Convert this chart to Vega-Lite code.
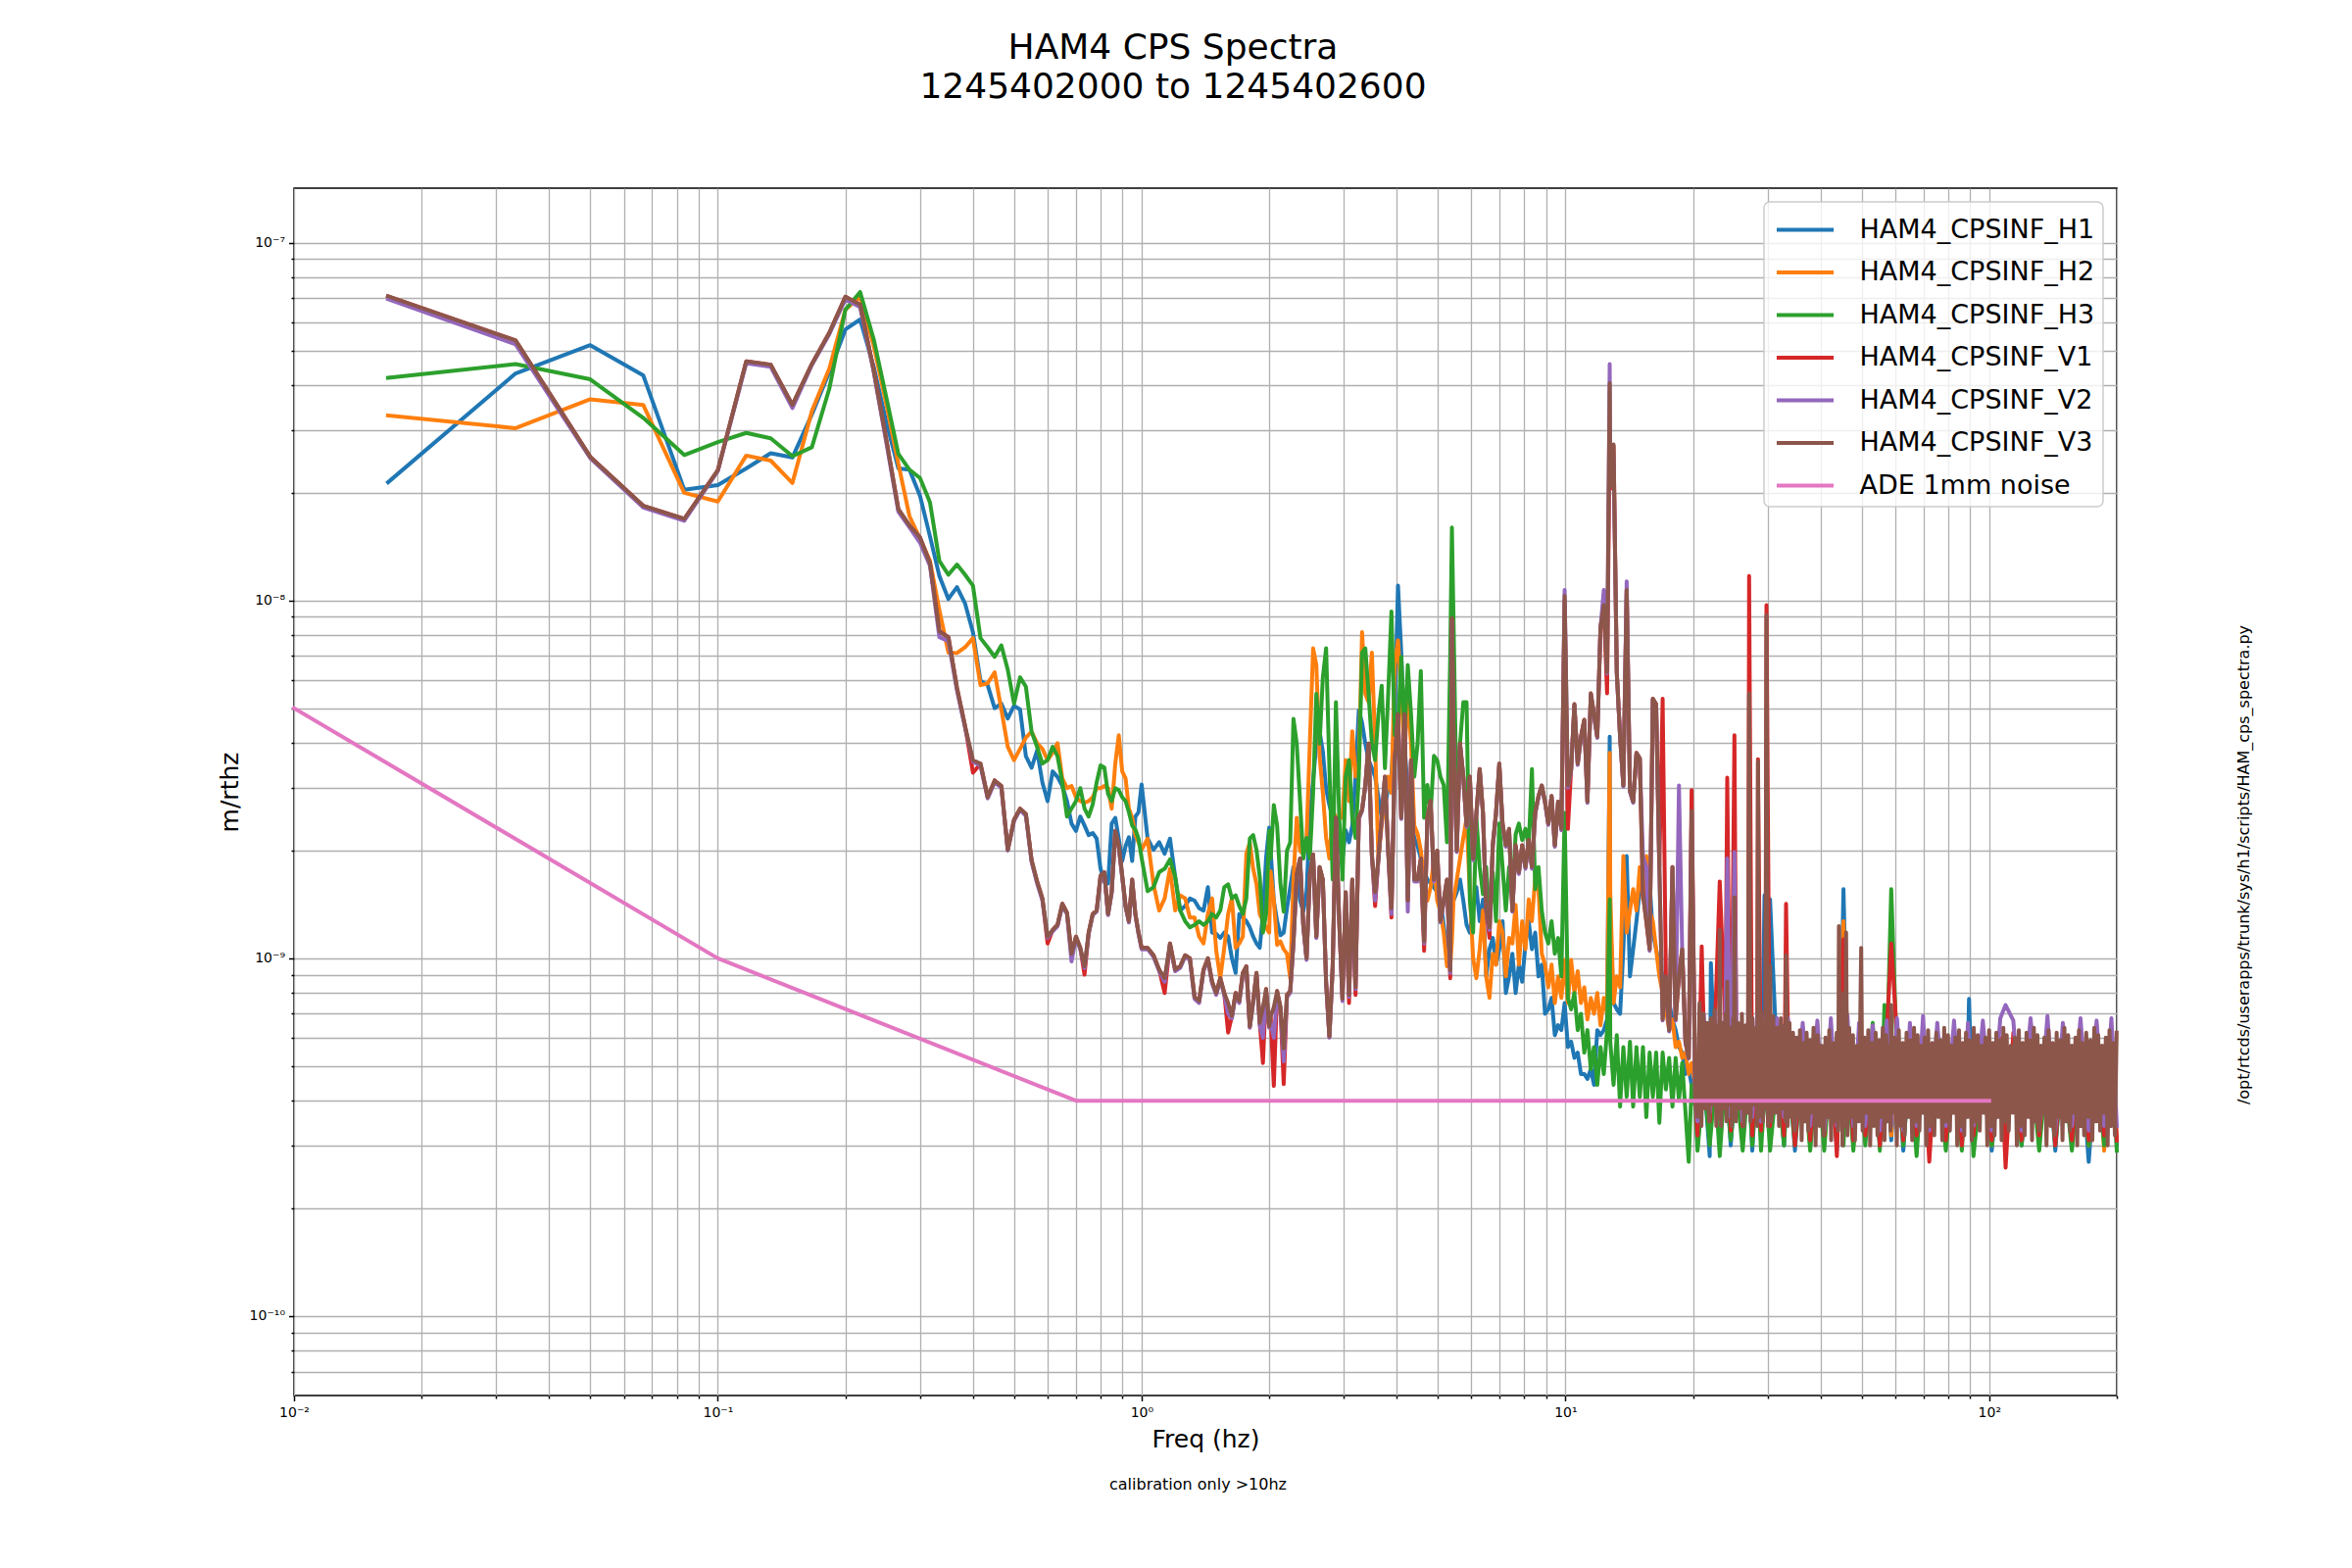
{
"$schema": "https://vega.github.io/schema/vega-lite/v6.json",
"width": 1860,
"height": 1232,
"autosize": {"type": "none"},
"padding": {"left": 300, "top": 192, "right": 240, "bottom": 176},
"background": "white",
"title": {"text": ["HAM4 CPS Spectra", "1245402000 to 1245402600"], "font": "DejaVu Sans", "fontSize": 36, "fontWeight": "normal", "color": "black", "anchor": "middle", "frame": "group", "dx": -33, "offset": 48, "baseline": "bottom", "lineHeight": 40},
"config": {
  "font": "DejaVu Sans",
  "view": {"stroke": "black", "strokeWidth": 1.5},
  "axis": {"labelFont": "DejaVu Sans", "titleFont": "DejaVu Sans", "titleFontWeight": "normal", "labelColor": "black", "titleColor": "black", "tickColor": "black", "tickWidth": 1.5, "domain": false, "gridColor": "#b0b0b0", "gridWidth": 1.3, "gridOpacity": 1},
  "legend": {"orient": "top-right", "offset": 14, "labelFont": "DejaVu Sans", "labelFontSize": 27, "labelColor": "black", "labelLimit": 0, "symbolType": "M-1.57,0H1.57", "symbolSize": 1369, "symbolStrokeWidth": 4, "symbolOffset": 13.5, "labelOffset": 35, "rowPadding": 9.5, "padding": 8, "fillColor": "rgba(255,255,255,0.8)", "strokeColor": "#cccccc", "strokeWidth": 1.5, "cornerRadius": 6},
  "line": {"strokeWidth": 4, "strokeJoin": "round", "strokeCap": "square"}
},
"datasets": {
"cps": [
{"f":0.01667,"H1":2.14e-8,"H2":3.29e-8,"H3":4.19e-8,"V1":7.08e-8,"V2":6.95e-8,"V3":7.08e-8},
{"f":0.03333,"H1":4.31e-8,"H2":3.03e-8,"H3":4.58e-8,"V1":5.33e-8,"V2":5.2e-8,"V3":5.33e-8},
{"f":0.05,"H1":5.17e-8,"H2":3.65e-8,"H3":4.15e-8,"V1":2.52e-8,"V2":2.5e-8,"V3":2.52e-8},
{"f":0.06667,"H1":4.26e-8,"H2":3.52e-8,"H3":3.24e-8,"V1":1.84e-8,"V2":1.82e-8,"V3":1.84e-8},
{"f":0.08333,"H1":2.04e-8,"H2":2.0e-8,"H3":2.55e-8,"V1":1.69e-8,"V2":1.67e-8,"V3":1.69e-8},
{"f":0.1,"H1":2.1e-8,"H2":1.89e-8,"H3":2.77e-8,"V1":2.31e-8,"V2":2.3e-8,"V3":2.31e-8},
{"f":0.1167,"H1":2.34e-8,"H2":2.54e-8,"H3":2.94e-8,"V1":4.66e-8,"V2":4.6e-8,"V3":4.66e-8},
{"f":0.1333,"H1":2.58e-8,"H2":2.46e-8,"H3":2.84e-8,"V1":4.56e-8,"V2":4.5e-8,"V3":4.56e-8},
{"f":0.15,"H1":2.51e-8,"H2":2.13e-8,"H3":2.53e-8,"V1":3.52e-8,"V2":3.45e-8,"V3":3.52e-8},
{"f":0.1667,"H1":3.31e-8,"H2":3.38e-8,"H3":2.68e-8,"V1":4.58e-8,"V2":4.55e-8,"V3":4.58e-8},
{"f":0.1833,"H1":4.35e-8,"H2":4.45e-8,"H3":3.91e-8,"V1":5.6e-8,"V2":5.55e-8,"V3":5.6e-8},
{"f":0.2,"H1":5.72e-8,"H2":6.5e-8,"H3":6.5e-8,"V1":7.06e-8,"V2":6.95e-8,"V3":7.06e-8},
{"f":0.2167,"H1":6.1e-8,"H2":7.06e-8,"H3":7.28e-8,"V1":6.7e-8,"V2":6.6e-8,"V3":6.7e-8},
{"f":0.2333,"H1":4.5e-8,"H2":5.15e-8,"H3":5.37e-8,"V1":4.4e-8,"V2":4.35e-8,"V3":4.4e-8},
{"f":0.25,"H1":3.14e-8,"H2":3.52e-8,"H3":3.68e-8,"V1":2.8e-8,"V2":2.75e-8,"V3":2.8e-8},
{"f":0.2667,"H1":2.34e-8,"H2":2.41e-8,"H3":2.57e-8,"V1":1.8e-8,"V2":1.77e-8,"V3":1.8e-8},
{"f":0.2833,"H1":2.32e-8,"H2":1.72e-8,"H3":2.32e-8,"V1":1.62e-8,"V2":1.6e-8,"V3":1.62e-8},
{"f":0.3,"H1":1.96e-8,"H2":1.49e-8,"H3":2.2e-8,"V1":1.5e-8,"V2":1.45e-8,"V3":1.5e-8},
{"f":0.3167,"H1":1.51e-8,"H2":1.29e-8,"H3":1.88e-8,"V1":1.27e-8,"V2":1.25e-8,"V3":1.27e-8},
{"f":0.3333,"H1":1.17e-8,"H2":9.4e-9,"H3":1.29e-8,"V1":8.2e-9,"V2":7.9e-9,"V3":8.2e-9},
{"f":0.35,"H1":1.01e-8,"H2":7.15e-9,"H3":1.18e-8,"V1":7.9e-9,"V2":7.7e-9,"V3":7.9e-9},
{"f":0.3667,"H1":1.09e-8,"H2":7.13e-9,"H3":1.26e-8,"V1":5.7e-9,"V2":5.6e-9,"V3":5.7e-9},
{"f":0.3833,"H1":9.8e-9,"H2":7.4e-9,"H3":1.18e-8,"V1":4.45e-9,"V2":4.4e-9,"V3":4.45e-9},
{"f":0.4,"H1":8.15e-9,"H2":7.85e-9,"H3":1.1e-8,"V1":3.3e-9,"V2":3.55e-9,"V3":3.58e-9},
{"f":0.4167,"H1":5.96e-9,"H2":5.8e-9,"H3":7.85e-9,"V1":3.5e-9,"V2":3.45e-9,"V3":3.5e-9},
{"f":0.4333,"H1":5.8e-9,"H2":5.87e-9,"H3":7.4e-9,"V1":2.82e-9,"V2":2.8e-9,"V3":2.82e-9},
{"f":0.45,"H1":5.0e-9,"H2":6.3e-9,"H3":6.96e-9,"V1":3.14e-9,"V2":3.1e-9,"V3":3.14e-9},
{"f":0.4667,"H1":5.15e-9,"H2":4.96e-9,"H3":7.49e-9,"V1":3.03e-9,"V2":3.0e-9,"V3":3.03e-9},
{"f":0.4833,"H1":4.68e-9,"H2":3.9e-9,"H3":6.4e-9,"V1":2.01e-9,"V2":2.0e-9,"V3":2.01e-9},
{"f":0.5,"H1":5.08e-9,"H2":3.58e-9,"H3":5.15e-9,"V1":2.44e-9,"V2":2.42e-9,"V3":2.44e-9},
{"f":0.5167,"H1":4.96e-9,"H2":3.85e-9,"H3":6.1e-9,"V1":2.62e-9,"V2":2.6e-9,"V3":2.62e-9},
{"f":0.5333,"H1":3.67e-9,"H2":4.14e-9,"H3":5.74e-9,"V1":2.53e-9,"V2":2.5e-9,"V3":2.53e-9},
{"f":0.55,"H1":3.41e-9,"H2":4.3e-9,"H3":4.3e-9,"V1":1.88e-9,"V2":1.86e-9,"V3":1.88e-9},
{"f":0.5667,"H1":3.81e-9,"H2":3.99e-9,"H3":3.9e-9,"V1":1.64e-9,"V2":1.62e-9,"V3":1.64e-9},
{"f":0.5833,"H1":3.1e-9,"H2":3.85e-9,"H3":3.5e-9,"V1":1.47e-9,"V2":1.45e-9,"V3":1.47e-9},
{"f":0.6,"H1":2.75e-9,"H2":3.58e-9,"H3":3.58e-9,"V1":1.1e-9,"V2":1.14e-9,"V3":1.15e-9},
{"f":0.6167,"H1":3.33e-9,"H2":3.76e-9,"H3":3.9e-9,"V1":1.2e-9,"V2":1.19e-9,"V3":1.2e-9},
{"f":0.6333,"H1":3.21e-9,"H2":3.99e-9,"H3":3.67e-9,"V1":1.24e-9,"V2":1.23e-9,"V3":1.24e-9},
{"f":0.65,"H1":3.03e-9,"H2":3.18e-9,"H3":3.1e-9,"V1":1.42e-9,"V2":1.4e-9,"V3":1.42e-9},
{"f":0.6667,"H1":2.75e-9,"H2":2.99e-9,"H3":2.49e-9,"V1":1.34e-9,"V2":1.33e-9,"V3":1.34e-9},
{"f":0.6833,"H1":2.38e-9,"H2":3.03e-9,"H3":2.62e-9,"V1":1.03e-9,"V2":9.8e-10,"V3":1.03e-9},
{"f":0.7,"H1":2.27e-9,"H2":2.82e-9,"H3":2.75e-9,"V1":1.15e-9,"V2":1.14e-9,"V3":1.15e-9},
{"f":0.7167,"H1":2.49e-9,"H2":2.75e-9,"H3":2.99e-9,"V1":1.07e-9,"V2":1.06e-9,"V3":1.07e-9},
{"f":0.7333,"H1":2.35e-9,"H2":2.72e-9,"H3":2.62e-9,"V1":9.0e-10,"V2":9.4e-10,"V3":9.5e-10},
{"f":0.75,"H1":2.21e-9,"H2":2.75e-9,"H3":2.49e-9,"V1":1.18e-9,"V2":1.17e-9,"V3":1.18e-9},
{"f":0.7667,"H1":2.24e-9,"H2":2.82e-9,"H3":2.69e-9,"V1":1.33e-9,"V2":1.32e-9,"V3":1.33e-9},
{"f":0.7833,"H1":2.16e-9,"H2":2.99e-9,"H3":3.1e-9,"V1":1.36e-9,"V2":1.35e-9,"V3":1.36e-9},
{"f":0.8,"H1":1.78e-9,"H2":2.99e-9,"H3":3.46e-9,"V1":1.7e-9,"V2":1.68e-9,"V3":1.7e-9},
{"f":0.8167,"H1":1.64e-9,"H2":3.03e-9,"H3":3.41e-9,"V1":1.74e-9,"V2":1.72e-9,"V3":1.74e-9},
{"f":0.8333,"H1":1.62e-9,"H2":2.99e-9,"H3":2.88e-9,"V1":1.33e-9,"V2":1.32e-9,"V3":1.33e-9},
{"f":0.85,"H1":2.38e-9,"H2":2.62e-9,"H3":2.75e-9,"V1":1.54e-9,"V2":1.52e-9,"V3":1.54e-9},
{"f":0.8667,"H1":2.47e-9,"H2":3.5e-9,"H3":2.99e-9,"V1":2.27e-9,"V2":2.25e-9,"V3":2.27e-9},
{"f":0.8833,"H1":2.16e-9,"H2":4.2e-9,"H3":2.95e-9,"V1":2.06e-9,"V2":2.04e-9,"V3":2.06e-9},
{"f":0.9,"H1":1.87e-9,"H2":3.33e-9,"H3":2.82e-9,"V1":1.7e-9,"V2":1.68e-9,"V3":1.7e-9},
{"f":0.9167,"H1":2.06e-9,"H2":3.18e-9,"H3":2.75e-9,"V1":1.4e-9,"V2":1.39e-9,"V3":1.4e-9},
{"f":0.9333,"H1":2.18e-9,"H2":2.62e-9,"H3":2.56e-9,"V1":1.27e-9,"V2":1.26e-9,"V3":1.27e-9},
{"f":0.95,"H1":1.87e-9,"H2":2.47e-9,"H3":2.35e-9,"V1":1.66e-9,"V2":1.64e-9,"V3":1.66e-9},
{"f":0.9667,"H1":2.49e-9,"H2":2.21e-9,"H3":2.29e-9,"V1":1.33e-9,"V2":1.32e-9,"V3":1.33e-9},
{"f":0.9833,"H1":2.56e-9,"H2":2.11e-9,"H3":2.16e-9,"V1":1.18e-9,"V2":1.17e-9,"V3":1.18e-9},
{"f":1.0,"H1":3.06e-9,"H2":2.01e-9,"H3":1.91e-9,"V1":1.07e-9,"V2":1.06e-9,"V3":1.07e-9},
{"f":1.0333,"H1":2.16e-9,"H2":2.16e-9,"H3":1.54e-9,"V1":1.07e-9,"V2":1.06e-9,"V3":1.07e-9},
{"f":1.0667,"H1":2.01e-9,"H2":1.61e-9,"H3":1.58e-9,"V1":1.02e-9,"V2":1.01e-9,"V3":1.02e-9},
{"f":1.1,"H1":2.11e-9,"H2":1.36e-9,"H3":1.74e-9,"V1":9.3e-10,"V2":9.2e-10,"V3":9.3e-10},
{"f":1.1333,"H1":1.96e-9,"H2":1.47e-9,"H3":1.78e-9,"V1":8.0e-10,"V2":8.6e-10,"V3":8.8e-10},
{"f":1.1667,"H1":2.16e-9,"H2":1.78e-9,"H3":1.89e-9,"V1":1.1e-9,"V2":1.09e-9,"V3":1.1e-9},
{"f":1.2,"H1":1.69e-9,"H2":1.36e-9,"H3":1.69e-9,"V1":9.3e-10,"V2":9.2e-10,"V3":9.3e-10},
{"f":1.2333,"H1":1.36e-9,"H2":1.5e-9,"H3":1.36e-9,"V1":9.5e-10,"V2":9.4e-10,"V3":9.5e-10},
{"f":1.2667,"H1":1.4e-9,"H2":1.47e-9,"H3":1.27e-9,"V1":1.02e-9,"V2":1.01e-9,"V3":1.02e-9},
{"f":1.3,"H1":1.47e-9,"H2":1.3e-9,"H3":1.22e-9,"V1":1.0e-9,"V2":9.9e-10,"V3":1.0e-9},
{"f":1.3333,"H1":1.45e-9,"H2":1.3e-9,"H3":1.24e-9,"V1":7.8e-10,"V2":7.7e-10,"V3":7.8e-10},
{"f":1.3667,"H1":1.38e-9,"H2":1.15e-9,"H3":1.27e-9,"V1":7.6e-10,"V2":7.5e-10,"V3":7.6e-10},
{"f":1.4,"H1":1.36e-9,"H2":1.1e-9,"H3":1.24e-9,"V1":9.3e-10,"V2":9.2e-10,"V3":9.3e-10},
{"f":1.4333,"H1":1.58e-9,"H2":1.33e-9,"H3":1.27e-9,"V1":1.0e-9,"V2":9.9e-10,"V3":1.0e-9},
{"f":1.4667,"H1":1.18e-9,"H2":1.47e-9,"H3":1.33e-9,"V1":8.6e-10,"V2":8.5e-10,"V3":8.6e-10},
{"f":1.5,"H1":1.17e-9,"H2":1.05e-9,"H3":1.3e-9,"V1":8.0e-10,"V2":7.9e-10,"V3":8.0e-10},
{"f":1.5333,"H1":1.14e-9,"H2":8.8e-10,"H3":1.36e-9,"V1":8.8e-10,"V2":8.7e-10,"V3":8.8e-10},
{"f":1.5667,"H1":1.18e-9,"H2":1.07e-9,"H3":1.58e-9,"V1":8.0e-10,"V2":7.9e-10,"V3":8.0e-10},
{"f":1.6,"H1":1.15e-9,"H2":1.33e-9,"H3":1.61e-9,"V1":6.2e-10,"V2":7.0e-10,"V3":7.5e-10},
{"f":1.6333,"H1":1.0e-9,"H2":1.47e-9,"H3":1.47e-9,"V1":6.9e-10,"V2":6.8e-10,"V3":6.9e-10},
{"f":1.6667,"H1":9.1e-10,"H2":1.07e-9,"H3":1.5e-9,"V1":8.0e-10,"V2":7.9e-10,"V3":8.0e-10},
{"f":1.7,"H1":1.33e-9,"H2":1.1e-9,"H3":1.4e-9,"V1":7.6e-10,"V2":7.5e-10,"V3":7.6e-10},
{"f":1.7333,"H1":1.3e-9,"H2":1.15e-9,"H3":1.33e-9,"V1":9.1e-10,"V2":9.0e-10,"V3":9.1e-10},
{"f":1.7667,"H1":1.27e-9,"H2":1.96e-9,"H3":1.47e-9,"V1":9.5e-10,"V2":9.4e-10,"V3":9.5e-10},
{"f":1.8,"H1":1.22e-9,"H2":2.11e-9,"H3":2.16e-9,"V1":6.45e-10,"V2":6.4e-10,"V3":6.45e-10},
{"f":1.8333,"H1":1.15e-9,"H2":1.78e-9,"H3":2.21e-9,"V1":7.6e-10,"V2":7.5e-10,"V3":7.6e-10},
{"f":1.8667,"H1":1.1e-9,"H2":1.61e-9,"H3":2.01e-9,"V1":9.1e-10,"V2":9.0e-10,"V3":9.1e-10},
{"f":1.9,"H1":1.07e-9,"H2":1.33e-9,"H3":1.69e-9,"V1":6.6e-10,"V2":6.5e-10,"V3":6.6e-10},
{"f":1.9333,"H1":1.33e-9,"H2":1.27e-9,"H3":1.18e-9,"V1":5.1e-10,"V2":6.0e-10,"V3":7.3e-10},
{"f":1.9667,"H1":1.91e-9,"H2":1.22e-9,"H3":1.33e-9,"V1":8.2e-10,"V2":8.1e-10,"V3":8.2e-10},
{"f":2.0,"H1":2.32e-9,"H2":1.18e-9,"H3":2.27e-9,"V1":6.45e-10,"V2":6.4e-10,"V3":6.45e-10},
{"f":2.016,"H1":2.0e-9,"H2":1.75e-9,"H3":1.9e-9,"V1":6.9e-10,"V2":6.6e-10,"V3":6.9e-10},
{"f":2.051,"H1":1.45e-9,"H2":1.45e-9,"H3":2.68e-9,"V1":4.4e-10,"V2":6.0e-10,"V3":7.3e-10},
{"f":2.088,"H1":1.27e-9,"H2":1.09e-9,"H3":2.35e-9,"V1":8.1e-10,"V2":8.0e-10,"V3":8.1e-10},
{"f":2.126,"H1":1.16e-9,"H2":1.115e-9,"H3":1.62e-9,"V1":7.3e-10,"V2":7.2e-10,"V3":7.3e-10},
{"f":2.164,"H1":1.18e-9,"H2":1.06e-9,"H3":1.35e-9,"V1":4.45e-10,"V2":5.15e-10,"V3":5.6e-10},
{"f":2.203,"H1":1.38e-9,"H2":1.03e-9,"H3":2.0e-9,"V1":7.9e-10,"V2":7.8e-10,"V3":7.9e-10},
{"f":2.242,"H1":1.58e-9,"H2":8.8e-10,"H3":2.11e-9,"V1":8.1e-10,"V2":8.0e-10,"V3":8.1e-10},
{"f":2.282,"H1":1.8e-9,"H2":1.66e-9,"H3":4.67e-9,"V1":1.115e-9,"V2":1.1e-9,"V3":1.115e-9},
{"f":2.323,"H1":1.75e-9,"H2":2.47e-9,"H3":3.98e-9,"V1":1.71e-9,"V2":1.7e-9,"V3":1.71e-9},
{"f":2.365,"H1":1.45e-9,"H2":2.0e-9,"H3":2.75e-9,"V1":1.9e-9,"V2":1.88e-9,"V3":1.9e-9},
{"f":2.407,"H1":1.35e-9,"H2":1.95e-9,"H3":1.9e-9,"V1":1.24e-9,"V2":1.23e-9,"V3":1.24e-9},
{"f":2.45,"H1":1.53e-9,"H2":2.17e-9,"H3":2.17e-9,"V1":1.0e-9,"V2":9.9e-10,"V3":1.0e-9},
{"f":2.494,"H1":2.47e-9,"H2":3.98e-9,"H3":1.9e-9,"V1":1.71e-9,"V2":1.7e-9,"V3":1.71e-9},
{"f":2.539,"H1":3.14e-9,"H2":7.35e-9,"H3":2.9e-9,"V1":1.95e-9,"V2":1.93e-9,"V3":1.95e-9},
{"f":2.584,"H1":3.98e-9,"H2":6.6e-9,"H3":5.48e-9,"V1":1.15e-9,"V2":1.14e-9,"V3":1.15e-9},
{"f":2.63,"H1":4.31e-9,"H2":3.68e-9,"H3":3.98e-9,"V1":1.8e-9,"V2":1.78e-9,"V3":1.8e-9},
{"f":2.677,"H1":3.78e-9,"H2":2.9e-9,"H3":6.1e-9,"V1":1.66e-9,"V2":1.64e-9,"V3":1.66e-9},
{"f":2.725,"H1":2.97e-9,"H2":2.17e-9,"H3":7.35e-9,"V1":8.55e-10,"V2":8.5e-10,"V3":8.55e-10},
{"f":2.774,"H1":2.68e-9,"H2":1.9e-9,"H3":3.4e-9,"V1":6.05e-10,"V2":6.0e-10,"V3":6.05e-10},
{"f":2.824,"H1":2.47e-9,"H2":2.6e-9,"H3":1.66e-9,"V1":9.5e-10,"V2":9.4e-10,"V3":9.5e-10},
{"f":2.874,"H1":2.23e-9,"H2":2.47e-9,"H3":5.2e-9,"V1":2.47e-9,"V2":2.45e-9,"V3":2.47e-9},
{"f":2.926,"H1":2.06e-9,"H2":2.47e-9,"H3":2.47e-9,"V1":1.27e-9,"V2":1.26e-9,"V3":1.27e-9},
{"f":2.978,"H1":1.9e-9,"H2":2.47e-9,"H3":1.66e-9,"V1":7.7e-10,"V2":7.6e-10,"V3":7.7e-10},
{"f":3.031,"H1":2.28e-9,"H2":3.58e-9,"H3":3.22e-9,"V1":1.53e-9,"V2":1.52e-9,"V3":1.53e-9},
{"f":3.086,"H1":2.11e-9,"H2":2.75e-9,"H3":3.58e-9,"V1":7.5e-10,"V2":7.8e-10,"V3":7.9e-10},
{"f":3.141,"H1":2.35e-9,"H2":4.31e-9,"H3":2.47e-9,"V1":1.66e-9,"V2":1.64e-9,"V3":1.66e-9},
{"f":3.197,"H1":3.22e-9,"H2":3.22e-9,"H3":2.17e-9,"V1":7.9e-10,"V2":8.2e-10,"V3":8.3e-10},
{"f":3.254,"H1":4.93e-9,"H2":3.4e-9,"H3":3.22e-9,"V1":2.47e-9,"V2":2.45e-9,"V3":2.47e-9},
{"f":3.313,"H1":4.55e-9,"H2":8.16e-9,"H3":7.15e-9,"V1":2.6e-9,"V2":2.58e-9,"V3":2.6e-9},
{"f":3.372,"H1":3.98e-9,"H2":5.48e-9,"H3":7.35e-9,"V1":3.05e-9,"V2":3.03e-9,"V3":3.05e-9},
{"f":3.432,"H1":3.58e-9,"H2":5.2e-9,"H3":5.48e-9,"V1":3.98e-9,"V2":3.95e-9,"V3":3.98e-9},
{"f":3.494,"H1":3.4e-9,"H2":7.15e-9,"H3":3.98e-9,"V1":1.95e-9,"V2":1.93e-9,"V3":1.95e-9},
{"f":3.556,"H1":3.22e-9,"H2":3.98e-9,"H3":3.58e-9,"V1":1.4e-9,"V2":1.45e-9,"V3":1.53e-9},
{"f":3.62,"H1":2.82e-9,"H2":1.9e-9,"H3":4.8e-9,"V1":1.9e-9,"V2":1.88e-9,"V3":1.9e-9},
{"f":3.685,"H1":2.47e-9,"H2":2.35e-9,"H3":5.78e-9,"V1":2.47e-9,"V2":2.45e-9,"V3":2.47e-9},
{"f":3.751,"H1":2.68e-9,"H2":2.75e-9,"H3":3.4e-9,"V1":3.22e-9,"V2":3.2e-9,"V3":3.22e-9},
{"f":3.818,"H1":2.97e-9,"H2":3.22e-9,"H3":5.48e-9,"V1":2.0e-9,"V2":1.98e-9,"V3":2.0e-9},
{"f":3.886,"H1":3.22e-9,"H2":2.9e-9,"H3":9.32e-9,"V1":1.3e-9,"V2":1.33e-9,"V3":1.38e-9},
{"f":3.956,"H1":4.8e-9,"H2":6.6e-9,"H3":4.2e-9,"V1":3.58e-9,"V2":3.55e-9,"V3":3.58e-9},
{"f":4.027,"H1":1.1e-8,"H2":7.74e-9,"H3":4.43e-9,"V1":4.8e-9,"V2":4.75e-9,"V3":4.8e-9},
{"f":4.099,"H1":7.15e-9,"H2":5.48e-9,"H3":6.96e-9,"V1":2.47e-9,"V2":2.45e-9,"V3":2.47e-9},
{"f":4.172,"H1":3.98e-9,"H2":3.68e-9,"H3":4.2e-9,"V1":4.8e-9,"V2":4.75e-9,"V3":4.8e-9},
{"f":4.247,"H1":2.9e-9,"H2":5.48e-9,"H3":6.6e-9,"V1":1.45e-9,"V2":1.35e-9,"V3":1.45e-9},
{"f":4.323,"H1":2.47e-9,"H2":3.98e-9,"H3":4.8e-9,"V1":3.58e-9,"V2":3.55e-9,"V3":3.58e-9},
{"f":4.4,"H1":2.17e-9,"H2":2.35e-9,"H3":3.22e-9,"V1":1.66e-9,"V2":1.64e-9,"V3":1.66e-9},
{"f":4.479,"H1":2.06e-9,"H2":2.23e-9,"H3":3.98e-9,"V1":1.66e-9,"V2":1.64e-9,"V3":1.66e-9},
{"f":4.559,"H1":1.9e-9,"H2":2.0e-9,"H3":6.35e-9,"V1":1.9e-9,"V2":1.88e-9,"V3":1.9e-9},
{"f":4.641,"H1":1.75e-9,"H2":1.66e-9,"H3":2.47e-9,"V1":1.05e-9,"V2":1.1e-9,"V3":1.115e-9},
{"f":4.724,"H1":1.66e-9,"H2":1.45e-9,"H3":3.05e-9,"V1":2.47e-9,"V2":2.45e-9,"V3":2.47e-9},
{"f":4.808,"H1":1.62e-9,"H2":1.58e-9,"H3":2.54e-9,"V1":2.75e-9,"V2":2.72e-9,"V3":2.75e-9},
{"f":4.895,"H1":1.58e-9,"H2":1.9e-9,"H3":3.68e-9,"V1":1.66e-9,"V2":1.64e-9,"V3":1.66e-9},
{"f":4.982,"H1":1.53e-9,"H2":1.45e-9,"H3":3.58e-9,"V1":2.0e-9,"V2":1.98e-9,"V3":2.0e-9},
{"f":5.071,"H1":1.45e-9,"H2":1.35e-9,"H3":3.22e-9,"V1":1.27e-9,"V2":1.26e-9,"V3":1.27e-9},
{"f":5.162,"H1":1.24e-9,"H2":1.18e-9,"H3":3.05e-9,"V1":1.45e-9,"V2":1.44e-9,"V3":1.45e-9},
{"f":5.255,"H1":1.03e-9,"H2":9.5e-10,"H3":2.11e-9,"V1":1.66e-9,"V2":1.64e-9,"V3":1.66e-9},
{"f":5.349,"H1":1.24e-9,"H2":9.5e-10,"H3":7.15e-9,"V1":8.8e-10,"V2":9.1e-10,"V3":9.25e-10},
{"f":5.397,"H1":1.35e-9,"H2":1.115e-9,"H3":1.6e-8,"V1":8.9e-9,"V2":8.8e-9,"V3":8.9e-9},
{"f":5.445,"H1":1.45e-9,"H2":1.45e-9,"H3":8.8e-9,"V1":4.2e-9,"V2":4.15e-9,"V3":4.2e-9},
{"f":5.542,"H1":1.53e-9,"H2":1.66e-9,"H3":2.47e-9,"V1":2.0e-9,"V2":1.98e-9,"V3":2.0e-9},
{"f":5.641,"H1":1.66e-9,"H2":1.9e-9,"H3":3.98e-9,"V1":3.98e-9,"V2":3.95e-9,"V3":3.98e-9},
{"f":5.742,"H1":1.45e-9,"H2":2.17e-9,"H3":5.2e-9,"V1":3.22e-9,"V2":3.2e-9,"V3":3.22e-9},
{"f":5.845,"H1":1.24e-9,"H2":2.47e-9,"H3":5.2e-9,"V1":2.35e-9,"V2":2.33e-9,"V3":2.35e-9},
{"f":5.95,"H1":1.18e-9,"H2":1.53e-9,"H3":1.45e-9,"V1":3.22e-9,"V2":3.2e-9,"V3":3.22e-9},
{"f":6.056,"H1":1.38e-9,"H2":1.0e-9,"H3":1.18e-9,"V1":1.9e-9,"V2":1.88e-9,"V3":1.9e-9},
{"f":6.165,"H1":1.58e-9,"H2":8.8e-10,"H3":2.47e-9,"V1":2.54e-9,"V2":2.52e-9,"V3":2.54e-9},
{"f":6.277,"H1":1.27e-9,"H2":1.06e-9,"H3":1.8e-9,"V1":3.38e-9,"V2":3.35e-9,"V3":3.38e-9},
{"f":6.39,"H1":1.46e-9,"H2":1.36e-9,"H3":1.51e-9,"V1":2.55e-9,"V2":2.53e-9,"V3":2.55e-9},
{"f":6.503,"H1":8.9e-10,"H2":8.9e-10,"H3":1.8e-9,"V1":1.36e-9,"V2":1.35e-9,"V3":1.36e-9},
{"f":6.62,"H1":1.06e-9,"H2":7.75e-10,"H3":1.27e-9,"V1":1.14e-9,"V2":1.2e-9,"V3":1.22e-9},
{"f":6.739,"H1":1.14e-9,"H2":1.03e-9,"H3":1.74e-9,"V1":2.07e-9,"V2":2.05e-9,"V3":2.07e-9},
{"f":6.859,"H1":9.6e-10,"H2":9.6e-10,"H3":1.27e-9,"V1":2.55e-9,"V2":2.53e-9,"V3":2.55e-9},
{"f":6.982,"H1":1.06e-9,"H2":1.27e-9,"H3":2.38e-9,"V1":3.5e-9,"V2":3.47e-9,"V3":3.5e-9},
{"f":7.107,"H1":1.27e-9,"H2":1.18e-9,"H3":1.8e-9,"V1":2.38e-9,"V2":2.36e-9,"V3":2.38e-9},
{"f":7.234,"H1":8.0e-10,"H2":8.9e-10,"H3":1.36e-9,"V1":2.07e-9,"V2":2.05e-9,"V3":2.07e-9},
{"f":7.364,"H1":8.9e-10,"H2":1.14e-9,"H3":1.8e-9,"V1":2.3e-9,"V2":2.28e-9,"V3":2.3e-9},
{"f":7.496,"H1":1.03e-9,"H2":1.1e-9,"H3":1.51e-9,"V1":1.36e-9,"V2":1.35e-9,"V3":1.36e-9},
{"f":7.63,"H1":8.0e-10,"H2":1.41e-9,"H3":2.22e-9,"V1":2.07e-9,"V2":2.05e-9,"V3":2.07e-9},
{"f":7.767,"H1":9.6e-10,"H2":9.6e-10,"H3":2.38e-9,"V1":1.74e-9,"V2":1.72e-9,"V3":1.74e-9},
{"f":7.906,"H1":8.6e-10,"H2":1.27e-9,"H3":2.14e-9,"V1":2.07e-9,"V2":2.05e-9,"V3":2.07e-9},
{"f":8.048,"H1":1.1e-9,"H2":1.06e-9,"H3":2.3e-9,"V1":1.8e-9,"V2":1.78e-9,"V3":1.8e-9},
{"f":8.192,"H1":1.27e-9,"H2":1.46e-9,"H3":2.07e-9,"V1":2.14e-9,"V2":2.12e-9,"V3":2.14e-9},
{"f":8.337,"H1":1.06e-9,"H2":1.27e-9,"H3":3.38e-9,"V1":1.8e-9,"V2":1.78e-9,"V3":1.8e-9},
{"f":8.487,"H1":1.18e-9,"H2":1.68e-9,"H3":1.56e-9,"V1":2.55e-9,"V2":2.53e-9,"V3":2.55e-9},
{"f":8.639,"H1":8.9e-10,"H2":1.56e-9,"H3":1.8e-9,"V1":2.84e-9,"V2":2.82e-9,"V3":2.84e-9},
{"f":8.794,"H1":9.6e-10,"H2":1.03e-9,"H3":1.36e-9,"V1":3.04e-9,"V2":3.02e-9,"V3":3.04e-9},
{"f":8.951,"H1":7.0e-10,"H2":9.6e-10,"H3":1.18e-9,"V1":2.74e-9,"V2":2.72e-9,"V3":2.74e-9},
{"f":9.112,"H1":7.2e-10,"H2":8.3e-10,"H3":1.1e-9,"V1":2.38e-9,"V2":2.36e-9,"V3":2.38e-9},
{"f":9.275,"H1":7.75e-10,"H2":9.6e-10,"H3":1.27e-9,"V1":2.84e-9,"V2":2.82e-9,"V3":2.84e-9},
{"f":9.441,"H1":6.1e-10,"H2":7.5e-10,"H3":1.03e-9,"V1":2.07e-9,"V2":2.05e-9,"V3":2.07e-9},
{"f":9.61,"H1":6.5e-10,"H2":8.9e-10,"H3":1.14e-9,"V1":2.74e-9,"V2":2.72e-9,"V3":2.74e-9},
{"f":9.782,"H1":6.3e-10,"H2":7.75e-10,"H3":8.9e-10,"V1":2.3e-9,"V2":2.28e-9,"V3":2.3e-9},
{"f":9.957,"H1":7.5e-10,"H2":9.9e-10,"H3":2.55e-9,"V1":1.0e-8,"V2":1.07e-8,"V3":1.03e-8},
{"f":10.135,"H1":5.65e-10,"H2":7.5e-10,"H3":7.75e-10,"V1":2.3e-9,"V2":3.0e-9,"V3":3.04e-9},
{"f":10.316,"H1":5.85e-10,"H2":9.9e-10,"H3":7.2e-10,"V1":3.38e-9,"V2":3.35e-9,"V3":3.38e-9},
{"f":10.5,"H1":5.27e-10,"H2":8.0e-10,"H3":8.0e-10,"V1":5.13e-9,"V2":5.1e-9,"V3":5.13e-9},
{"f":10.69,"H1":5.45e-10,"H2":9.2e-10,"H3":6.3e-10,"V1":3.5e-9,"V2":3.47e-9,"V3":3.5e-9},
{"f":10.88,"H1":4.75e-10,"H2":7.5e-10,"H3":7.0e-10,"V1":4.16e-9,"V2":4.13e-9,"V3":4.16e-9},
{"f":11.08,"H1":4.75e-10,"H2":8.3e-10,"H3":5.45e-10,"V1":4.64e-9,"V2":4.6e-9,"V3":4.64e-9},
{"f":11.27,"H1":4.6e-10,"H2":6.75e-10,"H3":6.3e-10,"V1":2.74e-9,"V2":2.72e-9,"V3":2.74e-9},
{"f":11.48,"H1":4.9e-10,"H2":7.75e-10,"H3":4.9e-10,"V1":5.5e-9,"V2":5.45e-9,"V3":5.5e-9},
{"f":11.68,"H1":4.43e-10,"H2":7.0e-10,"H3":5.65e-10,"V1":4.8e-9,"V2":4.75e-9,"V3":4.8e-9},
{"f":11.89,"H1":6.3e-10,"H2":8.0e-10,"H3":4.43e-10,"V1":4.16e-9,"V2":4.13e-9,"V3":4.16e-9},
{"f":12.1,"H1":6.1e-10,"H2":6.5e-10,"H3":5.65e-10,"V1":8.4e-9,"V2":8.35e-9,"V3":8.4e-9},
{"f":12.32,"H1":6.3e-10,"H2":7.75e-10,"H3":4.75e-10,"V1":9.7e-9,"V2":1.07e-8,"V3":9.7e-9},
{"f":12.54,"H1":6.75e-10,"H2":7.0e-10,"H3":6.3e-10,"V1":5.5e-9,"V2":6.25e-9,"V3":6.3e-9},
{"f":12.72,"H1":4.16e-9,"H2":3.75e-9,"H3":1.46e-9,"V1":3.0e-8,"V2":4.58e-8,"V3":4.05e-8},
{"f":12.76,"H1":1.27e-9,"H2":1.51e-9,"H3":5.85e-10,"V1":2.05e-8,"V2":2.1e-8,"V3":2.08e-8},
{"f":12.99,"H1":7.5e-10,"H2":7.5e-10,"H3":4.43e-10,"V1":2.7e-8,"V2":2.52e-8,"V3":2.73e-8},
{"f":13.22,"H1":7.2e-10,"H2":8.9e-10,"H3":6.1e-10,"V1":6.3e-9,"V2":6.25e-9,"V3":6.3e-9},
{"f":13.46,"H1":7.0e-10,"H2":8.3e-10,"H3":3.85e-10,"V1":4.16e-9,"V2":4.13e-9,"V3":4.16e-9},
{"f":13.7,"H1":1.06e-9,"H2":1.93e-9,"H3":5.65e-10,"V1":3.04e-9,"V2":3.02e-9,"V3":3.04e-9},
{"f":13.95,"H1":1.93e-9,"H2":1.18e-9,"H3":4.1e-10,"V1":1.07e-8,"V2":1.13e-8,"V3":1.07e-8},
{"f":14.2,"H1":8.9e-10,"H2":1.36e-9,"H3":5.85e-10,"V1":2.94e-9,"V2":2.92e-9,"V3":2.94e-9},
{"f":14.45,"H1":1.06e-9,"H2":1.56e-9,"H3":3.85e-10,"V1":2.74e-9,"V2":2.72e-9,"V3":2.74e-9},
{"f":14.71,"H1":1.27e-9,"H2":1.36e-9,"H3":5.65e-10,"V1":3.75e-9,"V2":3.72e-9,"V3":3.75e-9},
{"f":14.98,"H1":1.56e-9,"H2":1.8e-9,"H3":4.1e-10,"V1":3.62e-9,"V2":3.6e-9,"V3":3.62e-9},
{"f":15.24,"H1":1.8e-9,"H2":1.46e-9,"H3":5.65e-10,"V1":1.51e-9,"V2":1.93e-9,"V3":1.51e-9},
{"f":15.52,"H1":1.36e-9,"H2":1.93e-9,"H3":3.6e-10,"V1":1.27e-9,"V2":1.8e-9,"V3":1.27e-9},
{"f":15.8,"H1":1.62e-9,"H2":1.36e-9,"H3":5.45e-10,"V1":1.06e-9,"V2":1.05e-9,"V3":1.06e-9},
{"f":16.08,"H1":1.18e-9,"H2":1.27e-9,"H3":4.1e-10,"V1":5.31e-9,"V2":5.28e-9,"V3":5.31e-9},
{"f":16.37,"H1":1.06e-9,"H2":1.06e-9,"H3":5.45e-10,"V1":5.13e-9,"V2":5.1e-9,"V3":5.13e-9},
{"f":16.66,"H1":9.6e-10,"H2":8.9e-10,"H3":3.47e-10,"V1":1.8e-9,"V2":1.78e-9,"V3":1.8e-9},
{"f":16.96,"H1":8.9e-10,"H2":8.0e-10,"H3":5.45e-10,"V1":5.31e-9,"V2":6.7e-10,"V3":6.75e-10},
{"f":17.26,"H1":7.75e-10,"H2":7.2e-10,"H3":4.3e-10,"V1":8.9e-10,"V2":8.8e-10,"V3":8.9e-10},
{"f":17.57,"H1":7.5e-10,"H2":6.3e-10,"H3":5.27e-10,"V1":6.3e-10,"V2":6.25e-10,"V3":6.3e-10},
{"f":17.89,"H1":6.75e-10,"H2":6.75e-10,"H3":3.85e-10,"V1":1.8e-9,"V2":1.78e-9,"V3":1.8e-9},
{"f":18.2,"H1":6.3e-10,"H2":5.65e-10,"H3":5.27e-10,"V1":6.75e-10,"V2":6.7e-10,"V3":6.75e-10},
{"f":18.53,"H1":5.65e-10,"H2":5.85e-10,"H3":4.0e-10,"V1":8.9e-10,"V2":3.04e-9,"V3":8.9e-10},
{"f":18.86,"H1":5.45e-10,"H2":5.27e-10,"H3":5.1e-10,"V1":1.06e-9,"V2":1.05e-9,"V3":1.06e-9},
{"f":19.2,"H1":4.75e-10,"H2":5.45e-10,"H3":3.72e-10,"V1":5.85e-10,"V2":5.8e-10,"V3":5.85e-10},
{"f":19.54,"H1":4.9e-10,"H2":4.75e-10,"H3":2.7e-10,"V1":5.27e-10,"V2":5.25e-10,"V3":5.27e-10},
{"f":19.85,"H1":4.43e-10,"H2":5.1e-10,"H3":4.43e-10,"V1":2.95e-9,"V2":2.55e-9,"V3":2.58e-9},
{"f":20.25,"H1":4.1e-10,"H2":4.43e-10,"H3":3.85e-10,"V1":4.1e-10,"V2":4.1e-10,"V3":4.1e-10},
{"f":20.5,"H1":3.0e-10,"H2":3.3e-10,"H3":2.9e-10,"V1":3.2e-10,"V2":3.5e-10},
{"f":20.97,"V1":1.08e-9},
{"f":21.2,"H1":4.8e-10,"H2":5.0e-10,"H3":4.6e-10,"V1":6.4e-10,"V2":7.0e-10},
{"f":21.9,"H1":2.8e-10,"H2":3.2e-10,"H3":3.0e-10,"V1":3.5e-10,"V2":3.7e-10},
{"f":22.04,"H1":9.7e-10},
{"f":22.55,"H1":5.0e-10,"H2":4.8e-10,"H3":4.4e-10,"V1":6.6e-10,"V2":7.1e-10},
{"f":23.13,"H1":3.1e-10,"H2":3.4e-10,"H3":2.8e-10,"V1":1.64e-9,"V2":3.6e-10},
{"f":23.85,"H1":5.2e-10,"H2":5.3e-10,"H3":4.7e-10,"V1":6.5e-10,"V2":6.9e-10},
{"f":24.09,"V1":3.2e-9,"V2":1.9e-9},
{"f":24.55,"H1":3.0e-10,"H2":3.3e-10,"H3":3.1e-10,"V1":3.3e-10,"V2":3.6e-10},
{"f":25.05,"V1":4.2e-9,"V2":1.98e-9},
{"f":25.3,"H1":4.9e-10,"H2":5.1e-10,"H3":4.5e-10,"V1":6.3e-10,"V2":6.8e-10},
{"f":26.2,"H1":3.2e-10,"H2":3.1e-10,"H3":2.9e-10,"V1":3.4e-10,"V2":3.5e-10},
{"f":27.0,"H1":5.1e-10,"H2":5.4e-10,"H3":4.6e-10,"V1":6.2e-10,"V2":6.7e-10},
{"f":27.13,"V1":1.17e-8},
{"f":27.6,"H1":2.9e-10,"H2":3.2e-10,"H3":3.0e-10,"V1":3.2e-10,"V2":3.6e-10},
{"f":28.35,"H1":5.0e-10,"H2":5.2e-10,"H3":4.8e-10,"V1":6.4e-10,"V2":7.0e-10},
{"f":28.47,"V1":3.6e-9},
{"f":28.95,"H1":3.1e-10,"H2":3.3e-10,"H3":2.9e-10,"V1":3.3e-10,"V2":3.5e-10},
{"f":29.5,"H1":1.5e-9},
{"f":29.65,"H1":5.3e-10,"H2":5.0e-10,"H3":4.6e-10,"V1":6.3e-10,"V2":6.9e-10},
{"f":29.81,"V1":9.7e-9},
{"f":30.4,"H1":1.46e-9,"H2":3.2e-10,"H3":2.9e-10,"V1":3.4e-10,"V2":3.6e-10},
{"f":31.6,"H1":5.0e-10,"H2":5.4e-10,"H3":4.7e-10,"V1":6.1e-10,"V2":6.8e-10},
{"f":32.8,"H1":3.0e-10,"H2":3.3e-10,"H3":3.0e-10,"V1":3.2e-10,"V2":3.6e-10},
{"f":33.16,"V1":1.42e-9},
{"f":33.5,"H1":5.2e-10,"H2":5.5e-10,"H3":4.9e-10,"V1":6.2e-10,"V2":6.8e-10},
{"f":34.8,"H1":2.9e-10,"H2":3.1e-10,"H3":3.0e-10,"V1":3.0e-10,"V2":3.4e-10},
{"f":36.3,"H1":5.5e-10,"H2":5.8e-10,"H3":5.2e-10,"V1":6.0e-10,"V2":6.6e-10},
{"f":37.8,"H1":3.0e-10,"H2":3.2e-10,"H3":2.9e-10,"V1":3.1e-10,"V2":3.4e-10},
{"f":39.3,"H1":5.4e-10,"H2":6.5e-10,"H3":5.1e-10,"V1":5.9e-10,"V2":6.7e-10},
{"f":40.8,"H1":3.1e-10,"H2":3.0e-10,"H3":2.9e-10,"V1":3.2e-10,"V2":3.3e-10},
{"f":42.3,"H1":5.6e-10,"H2":5.7e-10,"H3":5.3e-10,"V1":6.0e-10,"V2":6.8e-10},
{"f":43.7,"H1":2.9e-10,"H2":3.1e-10,"H3":3.0e-10,"V1":2.8e-10,"V2":3.4e-10},
{"f":44.5,"H1":5.3e-10,"H2":5.6e-10,"H3":5.0e-10,"V1":6.1e-10,"V2":6.6e-10},
{"f":45.3,"H1":1.56e-9,"H2":1.27e-9,"H3":3.0e-10,"V1":1.13e-9,"V2":3.5e-10},
{"f":46.3,"H1":5.2e-10,"H2":5.5e-10,"H3":5.0e-10,"V1":6.0e-10,"V2":6.9e-10},
{"f":47.8,"H1":3.0e-10,"H2":3.0e-10,"H3":2.9e-10,"V1":3.1e-10,"V2":3.4e-10},
{"f":49.3,"H1":5.5e-10,"H2":5.8e-10,"H3":5.2e-10,"V1":5.9e-10,"V2":6.6e-10},
{"f":51.0,"H1":3.1e-10,"H2":3.2e-10,"H3":3.0e-10,"V1":3.2e-10,"V2":3.4e-10},
{"f":53.1,"H1":5.4e-10,"H2":5.6e-10,"H3":6.6e-10,"V1":6.0e-10,"V2":6.5e-10},
{"f":55.2,"H1":3.0e-10,"H2":3.1e-10,"H3":2.9e-10,"V1":3.0e-10,"V2":3.3e-10},
{"f":56.6,"H3":7.4e-10},
{"f":57.3,"H1":5.3e-10,"H2":5.7e-10,"H3":5.1e-10,"V1":6.1e-10,"V2":6.7e-10},
{"f":58.72,"H1":3.1e-10,"H2":3.2e-10,"H3":1.56e-9,"V1":1.1e-9,"V2":3.4e-10},
{"f":60.6,"H1":5.4e-10,"H2":6.6e-10,"H3":5.2e-10,"V1":6.0e-10,"V2":6.8e-10},
{"f":62.7,"H1":2.9e-10,"H2":3.1e-10,"H3":3.0e-10,"V1":3.1e-10,"V2":3.3e-10},
{"f":65.0,"H1":5.5e-10,"H2":5.6e-10,"H3":5.0e-10,"V1":6.2e-10,"V2":6.6e-10},
{"f":67.4,"H1":3.0e-10,"H2":3.2e-10,"H3":2.8e-10,"V1":3.2e-10,"V2":3.4e-10},
{"f":69.8,"H1":5.2e-10,"H2":5.8e-10,"H3":5.3e-10,"V1":5.9e-10,"V2":6.9e-10},
{"f":72.2,"H1":3.1e-10,"H2":3.0e-10,"H3":3.0e-10,"V1":2.7e-10,"V2":3.3e-10},
{"f":75.4,"H1":5.4e-10,"H2":5.5e-10,"H3":5.1e-10,"V1":6.1e-10,"V2":6.6e-10},
{"f":79.0,"H1":3.0e-10,"H2":3.1e-10,"H3":2.9e-10,"V1":3.1e-10,"V2":3.4e-10},
{"f":82.6,"H1":5.6e-10,"H2":5.7e-10,"H3":5.2e-10,"V1":6.0e-10,"V2":6.7e-10},
{"f":86.2,"H1":3.1e-10,"H2":3.2e-10,"H3":2.9e-10,"V1":3.0e-10,"V2":3.3e-10},
{"f":89.1,"H1":5.5e-10,"H2":5.6e-10,"H3":6.2e-10,"V1":6.0e-10,"V2":6.6e-10},
{"f":89.6,"H1":7.7e-10},
{"f":91.8,"H1":3.0e-10,"H2":3.1e-10,"H3":2.8e-10,"V1":3.2e-10,"V2":3.4e-10},
{"f":96.6,"H1":5.3e-10,"H2":5.8e-10,"H3":5.1e-10,"V1":6.1e-10,"V2":6.7e-10},
{"f":101.4,"H1":2.9e-10,"H2":3.0e-10,"H3":3.0e-10,"V1":3.1e-10,"V2":3.3e-10},
{"f":106.2,"H1":5.4e-10,"H2":5.6e-10,"H3":5.2e-10,"V1":6.0e-10,"V2":6.8e-10},
{"f":109.3,"H1":3.1e-10,"H2":3.2e-10,"H3":2.9e-10,"V1":2.6e-10,"V2":7.4e-10},
{"f":114.0,"H1":5.5e-10,"H2":5.7e-10,"H3":5.1e-10,"V1":6.2e-10,"V2":6.7e-10},
{"f":119.2,"H1":3.0e-10,"H2":3.1e-10,"H3":3.0e-10,"V1":3.1e-10,"V2":3.3e-10},
{"f":125.2,"H1":5.3e-10,"H2":6.6e-10,"H3":5.2e-10,"V1":6.0e-10,"V2":6.8e-10},
{"f":131.2,"H1":3.1e-10,"H2":3.0e-10,"H3":2.9e-10,"V1":3.2e-10,"V2":3.4e-10},
{"f":137.2,"H1":5.5e-10,"H2":5.6e-10,"H3":5.3e-10,"V1":6.1e-10,"V2":6.9e-10},
{"f":143.2,"H1":2.9e-10,"H2":3.2e-10,"H3":3.0e-10,"V1":3.0e-10,"V2":3.3e-10},
{"f":149.2,"H1":5.4e-10,"H2":5.8e-10,"H3":5.1e-10,"V1":6.0e-10,"V2":6.6e-10},
{"f":156.7,"H1":3.0e-10,"H2":3.1e-10,"H3":2.9e-10,"V1":3.1e-10,"V2":3.4e-10},
{"f":164.2,"H1":5.6e-10,"H2":5.7e-10,"H3":5.2e-10,"V1":6.2e-10,"V2":6.8e-10},
{"f":171.7,"H1":2.7e-10,"H2":3.0e-10,"H3":3.0e-10,"V1":3.1e-10,"V2":3.3e-10},
{"f":179.2,"H1":5.4e-10,"H2":6.5e-10,"H3":5.2e-10,"V1":6.1e-10,"V2":6.7e-10},
{"f":186.7,"H1":3.1e-10,"H2":2.9e-10,"H3":3.0e-10,"V1":3.2e-10,"V2":3.4e-10},
{"f":194.2,"H1":5.5e-10,"H2":5.6e-10,"H3":5.3e-10,"V1":6.0e-10,"V2":6.8e-10},
{"f":200,"H1":3.0e-10,"H2":3.1e-10,"H3":2.9e-10,"V1":3.1e-10,"V2":3.4e-10},
{"f":20.5,"V3":3.6e-10},{"f":20.72,"V3":7.5e-10},{"f":20.94,"V3":3.4e-10},{"f":21.16,"V3":7.0e-10},{"f":21.38,"V3":3.8e-10},
{"f":21.6,"V3":6.6e-10},{"f":21.82,"V3":3.5e-10},{"f":22.04,"V3":6.8e-10},{"f":22.26,"V3":3.9e-10},{"f":22.48,"V3":7.2e-10},
{"f":22.7,"V3":3.4e-10},{"f":22.92,"V3":6.5e-10},{"f":23.02,"V3":3.6e-10},{"f":23.13,"V3":1.2e-9},{"f":23.3,"V3":3.4e-10},
{"f":23.5,"V3":6.6e-10},{"f":23.7,"V3":3.8e-10},{"f":23.9,"V3":7.0e-10},{"f":24.0,"V3":3.5e-10},{"f":24.09,"V3":8.6e-10},
{"f":24.28,"V3":3.9e-10},{"f":24.48,"V3":6.4e-10},{"f":24.68,"V3":3.4e-10},{"f":24.88,"V3":6.8e-10},{"f":24.97,"V3":3.6e-10},
{"f":25.05,"V3":1.48e-9},{"f":25.25,"V3":3.5e-10},{"f":25.53,"V3":6.6e-10},{"f":25.81,"V3":3.8e-10},{"f":26.09,"V3":7.0e-10},
{"f":26.37,"V3":3.4e-10},{"f":26.65,"V3":6.5e-10},{"f":26.93,"V3":3.7e-10},{"f":27.13,"V3":5.5e-9},{"f":27.35,"V3":3.5e-10},
{"f":27.63,"V3":6.8e-10},{"f":27.91,"V3":3.9e-10},{"f":28.19,"V3":6.4e-10},{"f":28.35,"V3":3.4e-10},{"f":28.47,"V3":3.55e-9},
{"f":28.7,"V3":3.6e-10},{"f":28.98,"V3":7.1e-10},{"f":29.26,"V3":3.5e-10},{"f":29.5,"V3":6.6e-10},{"f":29.66,"V3":3.8e-10},
{"f":29.81,"V3":9.1e-9},{"f":30.05,"V3":3.4e-10},{"f":30.25,"V3":6.5e-10},{"f":30.33,"V3":3.6e-10},{"f":30.4,"V3":9.5e-10},
{"f":30.65,"V3":3.5e-10},{"f":30.93,"V3":6.9e-10},{"f":31.26,"V3":3.7e-10},{"f":31.59,"V3":6.4e-10},{"f":31.92,"V3":3.4e-10},
{"f":32.25,"V3":6.8e-10},{"f":32.58,"V3":3.8e-10},{"f":32.91,"V3":6.5e-10},{"f":33.05,"V3":3.5e-10},{"f":33.16,"V3":1.02e-9},
{"f":33.45,"V3":3.4e-10},{"f":33.78,"V3":6.6e-10},{"f":34.11,"V3":3.6e-10},{"f":34.44,"V3":6.2e-10},{"f":34.77,"V3":3.3e-10},
{"f":35.1,"V3":6.0e-10},{"f":35.43,"V3":3.6e-10},{"f":35.76,"V3":6.3e-10},{"f":36.09,"V3":3.1e-10},{"f":36.42,"V3":5.8e-10},
{"f":36.75,"V3":3.5e-10},{"f":37.08,"V3":6.2e-10},{"f":37.41,"V3":3.3e-10},{"f":37.74,"V3":5.9e-10},{"f":38.07,"V3":3.7e-10},
{"f":38.5,"V3":6.4e-10},{"f":38.93,"V3":3.0e-10},{"f":39.36,"V3":6.1e-10},{"f":39.79,"V3":3.4e-10},{"f":40.22,"V3":5.7e-10},
{"f":40.65,"V3":3.2e-10},{"f":41.08,"V3":6.0e-10},{"f":41.51,"V3":3.6e-10},{"f":41.94,"V3":6.3e-10},{"f":42.37,"V3":3.1e-10},
{"f":42.8,"V3":5.8e-10},{"f":43.23,"V3":3.5e-10},{"f":43.66,"V3":6.2e-10},{"f":44.0,"V3":3.3e-10},{"f":44.19,"V3":1.23e-9},
{"f":44.45,"V3":3.7e-10},{"f":44.8,"V3":5.9e-10},{"f":45.05,"V3":3.0e-10},{"f":45.3,"V3":8.0e-10},{"f":45.62,"V3":3.4e-10},
{"f":45.95,"V3":1.18e-9},{"f":46.3,"V3":3.2e-10},{"f":46.73,"V3":6.4e-10},{"f":47.16,"V3":3.6e-10},{"f":47.69,"V3":6.1e-10},
{"f":48.22,"V3":3.1e-10},{"f":48.75,"V3":5.7e-10},{"f":49.28,"V3":3.5e-10},{"f":49.87,"V3":1.07e-9},{"f":50.25,"V3":3.3e-10},
{"f":50.78,"V3":6.0e-10},{"f":51.31,"V3":3.7e-10},{"f":51.84,"V3":6.3e-10},{"f":52.37,"V3":3.0e-10},{"f":52.9,"V3":5.8e-10},
{"f":53.43,"V3":3.4e-10},{"f":53.96,"V3":6.2e-10},{"f":54.49,"V3":3.2e-10},{"f":55.02,"V3":5.9e-10},{"f":55.55,"V3":3.6e-10},
{"f":56.08,"V3":6.4e-10},{"f":56.61,"V3":3.1e-10},{"f":57.14,"V3":6.1e-10},{"f":57.67,"V3":3.5e-10},{"f":58.2,"V3":5.7e-10},
{"f":58.5,"V3":3.3e-10},{"f":58.72,"V3":7.4e-10},{"f":59.2,"V3":3.7e-10},{"f":59.86,"V3":6.0e-10},{"f":60.52,"V3":3.0e-10},
{"f":61.18,"V3":6.3e-10},{"f":61.84,"V3":3.4e-10},{"f":62.5,"V3":5.8e-10},{"f":63.16,"V3":3.2e-10},{"f":63.82,"V3":6.2e-10},
{"f":64.48,"V3":3.6e-10},{"f":65.14,"V3":5.9e-10},{"f":65.8,"V3":3.1e-10},{"f":66.46,"V3":6.4e-10},{"f":67.12,"V3":3.5e-10},
{"f":67.78,"V3":6.1e-10},{"f":68.44,"V3":3.3e-10},{"f":69.1,"V3":5.7e-10},{"f":69.76,"V3":3.7e-10},{"f":70.42,"V3":6.0e-10},
{"f":71.08,"V3":3.0e-10},{"f":71.74,"V3":6.3e-10},{"f":72.56,"V3":3.4e-10},{"f":73.38,"V3":5.8e-10},{"f":74.2,"V3":3.2e-10},
{"f":75.02,"V3":6.2e-10},{"f":75.84,"V3":3.6e-10},{"f":76.66,"V3":5.9e-10},{"f":77.48,"V3":3.1e-10},{"f":78.3,"V3":6.4e-10},
{"f":79.12,"V3":3.5e-10},{"f":79.94,"V3":6.1e-10},{"f":80.76,"V3":3.3e-10},{"f":81.58,"V3":5.7e-10},{"f":82.4,"V3":3.7e-10},
{"f":83.22,"V3":6.0e-10},{"f":84.04,"V3":3.0e-10},{"f":84.86,"V3":6.3e-10},{"f":85.68,"V3":3.4e-10},{"f":86.5,"V3":5.8e-10},
{"f":87.32,"V3":3.2e-10},{"f":88.14,"V3":6.2e-10},{"f":88.96,"V3":3.6e-10},{"f":89.96,"V3":5.9e-10},{"f":90.96,"V3":3.1e-10},
{"f":91.96,"V3":6.4e-10},{"f":92.96,"V3":3.5e-10},{"f":93.96,"V3":6.1e-10},{"f":94.96,"V3":3.3e-10},{"f":95.96,"V3":5.7e-10},
{"f":96.96,"V3":3.7e-10},{"f":97.96,"V3":6.0e-10},{"f":98.96,"V3":3.0e-10},{"f":99.96,"V3":6.3e-10},{"f":100.96,"V3":3.4e-10},
{"f":101.96,"V3":5.8e-10},{"f":102.96,"V3":3.2e-10},{"f":103.96,"V3":6.2e-10},{"f":104.96,"V3":3.6e-10},{"f":105.96,"V3":5.9e-10},
{"f":106.96,"V3":3.1e-10},{"f":107.96,"V3":6.4e-10},{"f":108.96,"V3":3.5e-10},{"f":109.96,"V3":6.1e-10},{"f":111.2,"V3":3.3e-10},
{"f":112.45,"V3":5.7e-10},{"f":113.7,"V3":3.7e-10},{"f":114.95,"V3":6.0e-10},{"f":116.2,"V3":3.0e-10},{"f":117.45,"V3":6.3e-10},
{"f":118.7,"V3":3.4e-10},{"f":119.95,"V3":5.8e-10},{"f":121.2,"V3":3.2e-10},{"f":122.45,"V3":6.2e-10},{"f":123.7,"V3":3.6e-10},
{"f":124.95,"V3":5.9e-10},{"f":126.2,"V3":3.1e-10},{"f":127.45,"V3":6.4e-10},{"f":128.7,"V3":3.5e-10},{"f":129.95,"V3":6.1e-10},
{"f":131.2,"V3":3.3e-10},{"f":132.45,"V3":5.7e-10},{"f":133.7,"V3":3.7e-10},{"f":134.95,"V3":6.0e-10},{"f":136.5,"V3":3.0e-10},
{"f":138.05,"V3":6.3e-10},{"f":139.6,"V3":3.4e-10},{"f":141.15,"V3":5.8e-10},{"f":142.7,"V3":3.2e-10},{"f":144.25,"V3":6.2e-10},
{"f":145.8,"V3":3.6e-10},{"f":147.35,"V3":5.9e-10},{"f":148.9,"V3":3.1e-10},{"f":150.45,"V3":6.4e-10},{"f":152.0,"V3":3.5e-10},
{"f":153.55,"V3":6.1e-10},{"f":155.1,"V3":3.3e-10},{"f":156.65,"V3":5.7e-10},{"f":158.2,"V3":3.7e-10},{"f":159.75,"V3":6.0e-10},
{"f":161.3,"V3":3.0e-10},{"f":162.85,"V3":6.3e-10},{"f":164.4,"V3":3.4e-10},{"f":165.95,"V3":5.8e-10},{"f":167.5,"V3":3.2e-10},
{"f":169.4,"V3":6.2e-10},{"f":171.3,"V3":3.6e-10},{"f":173.2,"V3":5.9e-10},{"f":175.1,"V3":3.1e-10},{"f":177.0,"V3":6.4e-10},
{"f":178.9,"V3":3.5e-10},{"f":180.8,"V3":6.1e-10},{"f":182.7,"V3":3.3e-10},{"f":184.6,"V3":5.7e-10},{"f":186.5,"V3":3.7e-10},
{"f":188.4,"V3":6.0e-10},{"f":190.3,"V3":3.0e-10},{"f":192.2,"V3":6.3e-10},{"f":194.1,"V3":3.4e-10},{"f":196.0,"V3":5.8e-10},
{"f":197.9,"V3":3.2e-10},{"f":199.8,"V3":6.2e-10}
]
},
"data": {"name": "cps"},
"layer": [
{
"transform": [{"fold": ["H1","H2","H3","V1","V2","V3"], "as": ["channel","asd"]}, {"filter": "datum.channel == 'H1' && isValid(datum.asd)"}],
"mark": {"type": "line"},
"encoding": {
"x": {"field": "f", "type": "quantitative", "scale": {"type": "log", "domain": [0.01, 200], "nice": false},
 "axis": {"values": [0.01,0.02,0.03,0.04,0.05,0.06,0.07,0.08,0.09,0.1,0.2,0.3,0.4,0.5,0.6,0.7,0.8,0.9,1,2,3,4,5,6,7,8,9,10,20,30,40,50,60,70,80,90,100,200],
  "labelExpr": "abs(log(datum.value)/LN10 - round(log(datum.value)/LN10)) < 0.01 ? '10' + ['⁻²','⁻¹','⁰','¹','²'][round(log(datum.value)/LN10) + 2] : ''",
  "labelFontSize": 14, "labelPadding": 5, "labelOverlap": false, "labelBound": false, "labelFlush": false,
  "tickSize": {"condition": {"test": "abs(log(datum.value)/LN10 - round(log(datum.value)/LN10)) < 0.01", "value": 5.5}, "value": 3},
  "grid": true, "title": "Freq (hz)", "titleFontSize": 25, "titleX": 930, "titleY": 44, "titleBaseline": "middle", "titleAlign": "center"}},
"y": {"field": "asd", "type": "quantitative", "scale": {"type": "log", "domain": [6e-11, 1.42e-7], "nice": false},
 "axis": {"values": [7e-11,8e-11,9e-11,1e-10,2e-10,3e-10,4e-10,5e-10,6e-10,7e-10,8e-10,9e-10,1e-9,2e-9,3e-9,4e-9,5e-9,6e-9,7e-9,8e-9,9e-9,1e-8,2e-8,3e-8,4e-8,5e-8,6e-8,7e-8,8e-8,9e-8,1e-7],
  "labelExpr": "abs(log(datum.value)/LN10 - round(log(datum.value)/LN10)) < 0.01 ? '10' + ['⁻¹⁰','⁻⁹','⁻⁸','⁻⁷'][round(log(datum.value)/LN10) + 10] : ''",
  "labelFontSize": 14, "labelPadding": 4, "labelOverlap": false, "labelBound": false, "labelFlush": false,
  "tickSize": {"condition": {"test": "abs(log(datum.value)/LN10 - round(log(datum.value)/LN10)) < 0.01", "value": 5.5}, "value": 3},
  "grid": true, "title": "m/rthz", "titleFontSize": 25, "titleAngle": 270, "titleX": -66, "titleY": 616, "titleBaseline": "middle", "titleAlign": "center"}},
"color": {"field": "channel", "type": "nominal",
 "scale": {"domain": ["H1","H2","H3","V1","V2","V3","ADE"], "range": ["#1f77b4","#ff7f0e","#2ca02c","#d62728","#9467bd","#8c564b","#e377c2"]},
 "legend": {"title": null, "labelExpr": "datum.label == 'ADE' ? 'ADE 1mm noise' : 'HAM4_CPSINF_' + datum.label"}}
}
},
{
"transform": [{"fold": ["H1","H2","H3","V1","V2","V3"], "as": ["channel","asd"]}, {"filter": "datum.channel == 'H2' && isValid(datum.asd)"}],
"mark": {"type": "line"},
"encoding": {
"x": {"field": "f", "type": "quantitative", "scale": {"type": "log", "domain": [0.01, 200], "nice": false}, "axis": null},
"y": {"field": "asd", "type": "quantitative", "scale": {"type": "log", "domain": [6e-11, 1.42e-7], "nice": false}, "axis": null},
"color": {"field": "channel", "type": "nominal", "scale": {"domain": ["H1","H2","H3","V1","V2","V3","ADE"], "range": ["#1f77b4","#ff7f0e","#2ca02c","#d62728","#9467bd","#8c564b","#e377c2"]}}
}
},
{
"transform": [{"fold": ["H1","H2","H3","V1","V2","V3"], "as": ["channel","asd"]}, {"filter": "datum.channel == 'H3' && isValid(datum.asd)"}],
"mark": {"type": "line"},
"encoding": {
"x": {"field": "f", "type": "quantitative", "scale": {"type": "log", "domain": [0.01, 200], "nice": false}, "axis": null},
"y": {"field": "asd", "type": "quantitative", "scale": {"type": "log", "domain": [6e-11, 1.42e-7], "nice": false}, "axis": null},
"color": {"field": "channel", "type": "nominal", "scale": {"domain": ["H1","H2","H3","V1","V2","V3","ADE"], "range": ["#1f77b4","#ff7f0e","#2ca02c","#d62728","#9467bd","#8c564b","#e377c2"]}}
}
},
{
"transform": [{"fold": ["H1","H2","H3","V1","V2","V3"], "as": ["channel","asd"]}, {"filter": "datum.channel == 'V1' && isValid(datum.asd)"}],
"mark": {"type": "line"},
"encoding": {
"x": {"field": "f", "type": "quantitative", "scale": {"type": "log", "domain": [0.01, 200], "nice": false}, "axis": null},
"y": {"field": "asd", "type": "quantitative", "scale": {"type": "log", "domain": [6e-11, 1.42e-7], "nice": false}, "axis": null},
"color": {"field": "channel", "type": "nominal", "scale": {"domain": ["H1","H2","H3","V1","V2","V3","ADE"], "range": ["#1f77b4","#ff7f0e","#2ca02c","#d62728","#9467bd","#8c564b","#e377c2"]}}
}
},
{
"transform": [{"fold": ["H1","H2","H3","V1","V2","V3"], "as": ["channel","asd"]}, {"filter": "datum.channel == 'V2' && isValid(datum.asd)"}],
"mark": {"type": "line"},
"encoding": {
"x": {"field": "f", "type": "quantitative", "scale": {"type": "log", "domain": [0.01, 200], "nice": false}, "axis": null},
"y": {"field": "asd", "type": "quantitative", "scale": {"type": "log", "domain": [6e-11, 1.42e-7], "nice": false}, "axis": null},
"color": {"field": "channel", "type": "nominal", "scale": {"domain": ["H1","H2","H3","V1","V2","V3","ADE"], "range": ["#1f77b4","#ff7f0e","#2ca02c","#d62728","#9467bd","#8c564b","#e377c2"]}}
}
},
{
"transform": [{"fold": ["H1","H2","H3","V1","V2","V3"], "as": ["channel","asd"]}, {"filter": "datum.channel == 'V3' && isValid(datum.asd)"}],
"mark": {"type": "line"},
"encoding": {
"x": {"field": "f", "type": "quantitative", "scale": {"type": "log", "domain": [0.01, 200], "nice": false}, "axis": null},
"y": {"field": "asd", "type": "quantitative", "scale": {"type": "log", "domain": [6e-11, 1.42e-7], "nice": false}, "axis": null},
"color": {"field": "channel", "type": "nominal", "scale": {"domain": ["H1","H2","H3","V1","V2","V3","ADE"], "range": ["#1f77b4","#ff7f0e","#2ca02c","#d62728","#9467bd","#8c564b","#e377c2"]}}
}
},
{
"data": {"values": [
{"channel": "ADE", "f": 0.01, "asd": 5e-9},
{"channel": "ADE", "f": 0.1, "asd": 1e-9},
{"channel": "ADE", "f": 0.7, "asd": 4e-10},
{"channel": "ADE", "f": 100, "asd": 4e-10}
]},
"mark": {"type": "line"},
"encoding": {
"x": {"field": "f", "type": "quantitative", "scale": {"type": "log", "domain": [0.01, 200], "nice": false},
 "axis": {"orient": "bottom", "title": "calibration only >10hz", "titleFontSize": 16, "titleX": 922, "titleY": 90, "titleBaseline": "middle", "titleAlign": "center", "labels": false, "ticks": false, "grid": false, "domain": false}},
"y": {"field": "asd", "type": "quantitative", "scale": {"type": "log", "domain": [6e-11, 1.42e-7], "nice": false},
 "axis": {"orient": "right", "title": "/opt/rtcds/userapps/trunk/sys/h1/scripts/HAM_cps_spectra.py", "titleFontSize": 16, "titleAngle": 270, "titleX": 129, "titleY": 690, "titleBaseline": "middle", "titleAlign": "center", "labels": false, "ticks": false, "grid": false, "domain": false}},
"color": {"field": "channel", "type": "nominal", "scale": {"domain": ["H1","H2","H3","V1","V2","V3","ADE"], "range": ["#1f77b4","#ff7f0e","#2ca02c","#d62728","#9467bd","#8c564b","#e377c2"]}}
}
}
],
"resolve": {"axis": {"x": "independent", "y": "independent"}}
}
